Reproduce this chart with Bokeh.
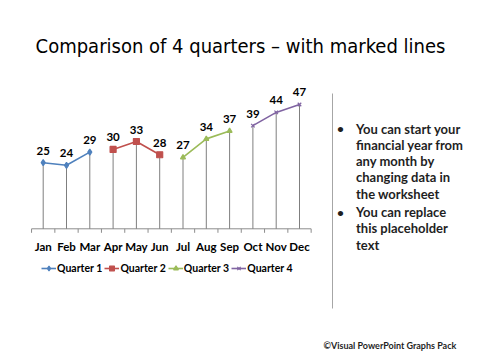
import math
from bokeh.plotting import figure
from bokeh.models import Range1d, Legend, LegendItem, Label, Arrow
from bokeh.core.properties import value
from bokeh.embed import file_html
from bokeh.resources import INLINE

months = ["Jan", "Feb", "Mar", "Apr", "May", "Jun", "Jul", "Aug", "Sep", "Oct", "Nov", "Dec"]
q1 = [25, 24, 29]
q2 = [30, 33, 28]
q3 = [27, 34, 37]
q4 = [39, 44, 47]
series_names = ["Quarter 1", "Quarter 2", "Quarter 3", "Quarter 4"]
series_colors = ["#4F81BD", "#C0504D", "#9BBB59", "#8064A2"]
series_markers = ["diamond", "square", "triangle", "x"]
title_text = "Comparison of 4 quarters \u2013 with marked lines"
bullet1 = ["You can start your", "financial year from", "any month by", "changing data in", "the  worksheet"]
bullet2 = ["You can replace", "this placeholder", "text"]
footer_text = "\u00a9Visual PowerPoint Graphs Pack"

FONT = "Lato"
W, H = 472, 352
# plot-area geometry (pixels)
X0, XS = 31.05, 23.3      # left edge of category band, pixels per category
Y0, YS = 228.3, 2.645     # y pixel of value 0, pixels per unit

p = figure(width=W, height=H, output_backend="svg", toolbar_location=None,
           x_range=Range1d(-X0 / XS, (W - X0) / XS),
           y_range=Range1d(-(H - Y0) / YS, Y0 / YS),
           x_axis_location=None, y_axis_location=None,
           min_border=0)
p.outline_line_color = None
p.xgrid.visible = False
p.ygrid.visible = False
p.background_fill_color = "white"
p.border_fill_color = "white"

n = len(months)
xs = [i + 0.5 for i in range(n)]
bounds = list(range(n + 1))
AXC = "#8C8C8C"

# category axis: line, boundary ticks, labels
p.segment(x0=[0], y0=[0], x1=[n], y1=[0], line_color=AXC, line_width=1)
p.ray(x=bounds, y=[0] * len(bounds), length=4, length_units="screen", angle=-math.pi / 2,
      line_color=AXC, line_width=1)
p.text(xs, [0] * n, text=months, text_align="center", text_baseline="middle", y_offset=17.5,
       text_font=value(FONT), text_font_style="bold", text_font_size="11.5px", text_color="#000000")

all_vals = q1 + q2 + q3 + q4
p.segment(x0=xs, y0=[0] * n, x1=xs, y1=all_vals, line_color="#7F7F7F", line_width=1)

items = []
for k, vals in enumerate([q1, q2, q3, q4]):
    sx = xs[3 * k:3 * k + 3]
    lr = p.line(sx, vals, line_color=series_colors[k], line_width=1.6)
    sr = p.scatter(sx, vals, marker=series_markers[k], size=6 if k < 2 else 5,
                   fill_color=series_colors[k], line_color=series_colors[k], line_width=1.2)
    p.text(sx, vals, text=[str(v) for v in vals], text_align="center", text_baseline="middle",
           y_offset=-12, text_font=value(FONT), text_font_style="bold",
           text_font_size="11.5px", text_color="#000000")
    items.append(LegendItem(label=series_names[k], renderers=[lr, sr]))

legend = Legend(items=items, orientation="horizontal", location=(41, H - 274),
                background_fill_alpha=0, border_line_color=None, padding=0, margin=0,
                spacing=2, glyph_width=15, glyph_height=12, label_height=12,
                label_standoff=1, label_text_font=FONT, label_text_font_style="bold",
                label_text_font_size="10.5px", label_text_color="#000000")
p.add_layout(legend, "center")

def add_text(txt, ix, iy, size, align="left", font=FONT, style="bold", color="#1F1F1F"):
    p.add_layout(Label(x=ix, y=H - iy, x_units="screen", y_units="screen",
                       text=txt, text_align=align, text_baseline="middle", text_font=font,
                       text_font_style=style, text_font_size=size, text_color=color))

add_text(title_text, 240, 45, "20px", "center", "DejaVu Sans Condensed", "normal", "#000000")

# separator line
p.add_layout(Arrow(end=None, start=None, x_start=332, y_start=H - 93, x_end=332, y_end=H - 308,
                   start_units="screen", end_units="screen", line_color="#A6A6A6", line_width=1))

y0 = 128.3
for i, line in enumerate(bullet1):
    add_text(line, 355.5, y0 + i * 16.2, "13px")
add_text("\u2022", 340, y0, "12px", "center")
y1 = 211.7
for i, line in enumerate(bullet2):
    add_text(line, 355.5, y1 + i * 16.2, "13px")
add_text("\u2022", 340, y1, "12px", "center")

add_text(footer_text, 323, 345, "9px")

open("out.html", "w").write(file_html(p, INLINE))
